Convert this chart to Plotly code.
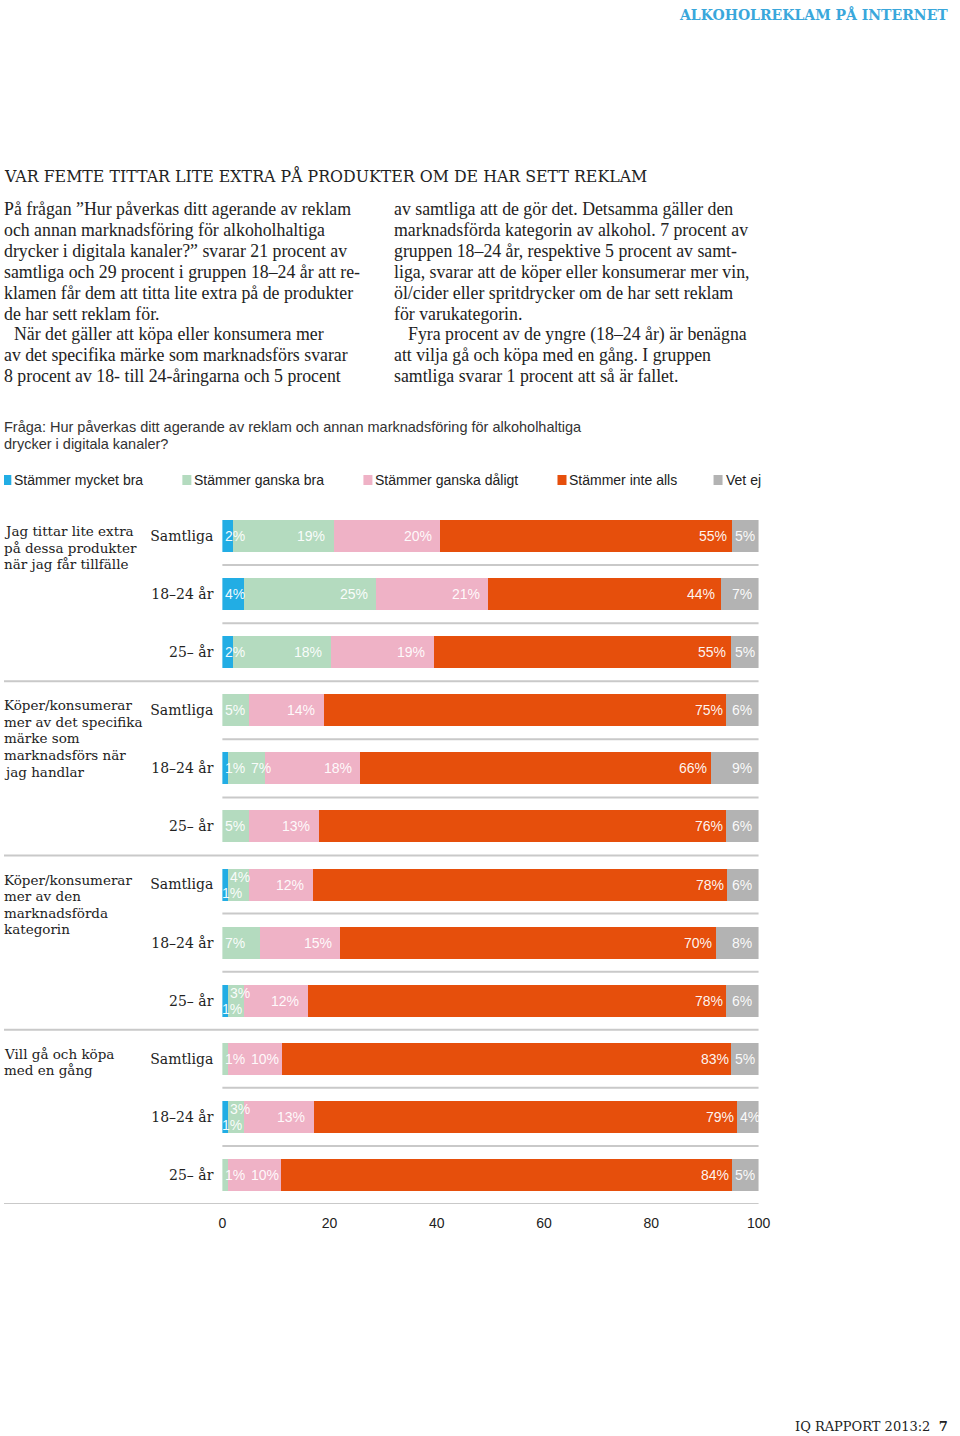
import plotly.graph_objects as go

# ---------------- data ----------------
series_names = ["Stämmer mycket bra", "Stämmer ganska bra", "Stämmer ganska dåligt",
                "Stämmer inte alls", "Vet ej"]
questions = [
    ["Jag tittar lite extra", "på dessa produkter", "när jag får tillfälle"],
    ["Köper/konsumerar", "mer av det specifika", "märke som", "marknadsförs när", "jag handlar"],
    ["Köper/konsumerar", "mer av den", "marknadsförda", "kategorin"],
    ["Vill gå och köpa", "med en gång"],
]
groups = ["Samtliga", "18–24 år", "25– år"]

mycket_bra = [2, 4, 2, 0, 1, 0, 1, 0, 1, 0, 1, 0]
ganska_bra = [19, 25, 18, 5, 7, 5, 4, 7, 3, 1, 3, 1]
ganska_daligt = [20, 21, 19, 14, 18, 13, 12, 15, 12, 10, 13, 10]
inte_alls = [55, 44, 55, 75, 66, 76, 78, 70, 78, 83, 79, 84]
vet_ej = [5, 7, 5, 6, 9, 6, 6, 8, 6, 5, 4, 5]
series_values = [mycket_bra, ganska_bra, ganska_daligt, inte_alls, vet_ej]

x_ticks = [0, 20, 40, 60, 80, 100]

# ---------------- style ----------------
colors = ["#22ade4", "#b4dbbf", "#efb2c6", "#e64f0c", "#b3b3b3"]
W, H = 960, 1436
# the photographed page is slightly compressed horizontally; map target px -> layout px
SX, OX = 0.983, 3.7
def LX(xp):
    return (xp - OX) / SX

X0, X1 = 222, 758          # plot area in target px
Y_TOP, Y_BOT = 507, 1204
SLAB = "DejaVu Serif, serif"
SANS = "Arial, Liberation Sans, Helvetica, sans-serif"
BODY = "Liberation Serif, Times New Roman, serif"
LBL_SIZE = 14
pxu = (X1 - X0) / 100.0
PAD = 2  # annotation inner padding

n_rows = len(mycket_bra)
rows = list(range(n_rows))
row_labels = [groups[i % 3] for i in rows]
row_sums = [sum(s[r] for s in series_values) for r in rows]
# bars are drawn as shares of each row's total (so every bar fills 0-100)
shares = [[s[r] / row_sums[r] * 100 for r in rows] for s in series_values]

fig = go.Figure()
for name, vals, col in zip(series_names, shares, colors):
    fig.add_trace(go.Bar(
        y=rows, x=vals, orientation="h", name=name,
        marker=dict(color=col, line=dict(width=0)),
        width=0.55, showlegend=False, hoverinfo="skip",
    ))

annotations = []
shapes = []

def tw(txt):
    w = 0
    for ch in txt:
        w += 0.889 if ch == "%" else 0.556
    return w * LBL_SIZE * SX

lbl_font = dict(family=SANS, size=LBL_SIZE, color="rgba(255,255,255,0.95)")

def seg_label(xdata, r, txt, left_pic, start_pic, yshift=0):
    annotations.append(dict(
        x=xdata, y=r, xref="x", yref="y", text=txt, showarrow=False,
        xanchor="left", xshift=(left_pic - start_pic) / SX - PAD,
        yshift=yshift, font=lbl_font))

# segment labels
for r in rows:
    vals = [s[r] for s in series_values]
    shr = [s[r] for s in shares]
    stacked = vals[0] > 0 and 0 < vals[1] <= 4
    start = 0.0
    prev_right = -1e9
    for i, v in enumerate(vals):
        if v == 0:
            continue
        end = start + shr[i]
        txt = f"{v}%"
        w = tw(txt)
        s_pic = X0 + start * pxu
        e_pic = X0 + end * pxu
        seg_px = e_pic - s_pic
        if stacked and i in (0, 1):
            left = s_pic + (0 if i == 0 else 2)
            seg_label(start, r, txt, left, s_pic, yshift=(-8 if i == 0 else 8))
            prev_right = left + w
        else:
            if (i <= 1 and seg_px < 40) or (i == 4 and seg_px < w + 10):
                left = s_pic + 3
            else:
                left = e_pic - (7 if i == 4 else 10) - w
            left = max(left, prev_right + 5)
            seg_label(start, r, txt, left, s_pic)
            prev_right = left + w
        start = end

# separator lines
for r in rows:
    full = (r % 3 == 2)
    shapes.append(dict(
        type="line", xref="paper", yref="y",
        x0=(0 if full else LX(X0) / W), x1=LX(X1) / W, y0=r + 0.5, y1=r + 0.5,
        line=dict(color="#c9c9c9", width=2)))

def P(x, y):
    return max(0.0, min(1.0, LX(x) / W)), 1 - y / H

def text_at(x, y, txt, font, xanchor="left"):
    px_, py_ = P(x, y)
    annotations.append(dict(x=px_, y=py_, xref="paper", yref="paper", text=txt,
                            showarrow=False, xanchor=xanchor, yanchor="middle",
                            xshift=(-PAD if xanchor == "left" else PAD),
                            align="left", font=font))

# question labels, one annotation per line
for q, lines in enumerate(questions):
    for k, line in enumerate(lines):
        annotations.append(dict(
            x=0, y=q * 3, xref="paper", yref="y", text=line, showarrow=False,
            xanchor="left", yanchor="middle", align="left", xshift=-PAD,
            yshift=5 - k * 16.6,
            font=dict(family=SLAB, size=13.5, color="#222")))

# header
text_at(955, 15, "<b>ALKOHOLREKLAM PÅ INTERNET</b>",
        dict(family=SLAB, size=14, color="#3aa7db"), xanchor="right")
# title
text_at(0, 176, "VAR FEMTE TITTAR LITE EXTRA PÅ PRODUKTER OM DE HAR SETT REKLAM",
        dict(family=SLAB, size=15.8, color="#222"))

body_font = dict(family=BODY, size=17.8, color="#222")
left_lines = [
    "På frågan ”Hur påverkas ditt agerande av reklam",
    "och annan marknadsföring för alkoholhaltiga",
    "drycker i digitala kanaler?” svarar 21 procent av",
    "samtliga och 29 procent i gruppen 18–24 år att re-",
    "klamen får dem att titta lite extra på de produkter",
    "de har sett reklam för.",
    "När det gäller att köpa eller konsumera mer",
    "av det specifika märke som marknadsförs svarar",
    "8 procent av 18- till 24-åringarna och 5 procent",
]
right_lines = [
    "av samtliga att de gör det. Detsamma gäller den",
    "marknadsförda kategorin av alkohol. 7 procent av",
    "gruppen 18–24 år, respektive 5 procent av samt-",
    "liga, svarar att de köper eller konsumerar mer vin,",
    "öl/cider eller spritdrycker om de har sett reklam",
    "för varukategorin.",
    "Fyra procent av de yngre (18–24 år) är benägna",
    "att vilja gå och köpa med en gång. I gruppen",
    "samtliga svarar 1 procent att så är fallet.",
]
for k, line in enumerate(left_lines):
    text_at(0 + (14 if k == 6 else 0), 209 + k * 20.9, line, body_font)
for k, line in enumerate(right_lines):
    text_at(394 + (14 if k == 6 else 0), 209 + k * 20.9, line, body_font)

q_font = dict(family=SANS, size=14.5, color="#333")
text_at(0, 427, "Fråga: Hur påverkas ditt agerande av reklam och annan marknadsföring för alkoholhaltiga", q_font)
text_at(0, 444, "drycker i digitala kanaler?", q_font)

# legend
leg_x = [2, 182, 363, 557, 713]
for name, col, lx in zip(series_names, colors, leg_x):
    x0, y0 = P(lx, 475)
    x1, y1 = P(lx + 9, 485)
    shapes.append(dict(type="rect", xref="paper", yref="paper", x0=x0, x1=x1,
                       y0=y1, y1=y0, fillcolor=col, line=dict(width=0)))
    text_at(lx + 12, 480, name, dict(family=SANS, size=14, color="#222"))

# footer
text_at(955, 1426, "IQ RAPPORT 2013:2  <b>7</b>",
        dict(family=SLAB, size=13, color="#222"), xanchor="right")

fig.update_layout(
    width=W, height=H, margin=dict(l=0, r=0, t=0, b=0),
    paper_bgcolor="white", plot_bgcolor="white",
    barmode="stack", showlegend=False,
    annotations=annotations, shapes=shapes,
    xaxis=dict(domain=[LX(X0) / W, LX(X1) / W], range=[0, 100], tickvals=x_ticks,
               showgrid=False, zeroline=False, showline=False, ticks="",
               tickfont=dict(family=SANS, size=14, color="#222"),
               ticklabelstandoff=9, fixedrange=True),
    yaxis=dict(domain=[1 - Y_BOT / H, 1 - Y_TOP / H], range=[n_rows - 0.5, -0.5],
               tickvals=rows, ticktext=row_labels, showgrid=False, zeroline=False,
               showline=False, ticks="", ticklabelstandoff=8,
               tickfont=dict(family=SLAB, size=14, color="#222"), fixedrange=True),
)

fig.write_html("out.html", config={"displayModeBar": False})
